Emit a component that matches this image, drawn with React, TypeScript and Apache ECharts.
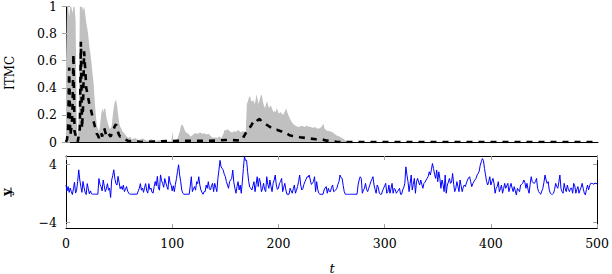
import React, { useEffect, useRef } from "react";
import * as echarts from "echarts";

// ---- data -------------------------------------------------------------
const xTicks = [0, 100, 200, 300, 400, 500];
const itmcTicks = [0, 0.2, 0.4, 0.6, 0.8, 1];
const yTickVals = [-4, 4];

// upper edge of the grey ITMC band: [t, value]
const upperBand: [number, number][] = [
  [0, 0.6], [1, 1], [2, 1], [3, 0.92], [4, 1], [5, 1], [6, 0.95], [7, 1], [8, 1], [9, 0.9],
  [10, 0.2], [11, 0.0], [12, 0.2], [13, 1], [14, 1], [15, 1], [16, 0.97], [17, 1], [18, 0.95], [19, 0.88],
  [20, 0.84], [21, 0.78], [22, 0.7], [23, 0.65], [24, 0.58], [25, 0.5], [26, 0.43], [27, 0.3], [28, 0.2], [29, 0.12],
  [30, 0.1], [31, 0.08], [32, 0.12], [33, 0.2], [34, 0.25], [35, 0.22], [36, 0.25], [37, 0.24], [38, 0.18], [39, 0.15],
  [40, 0.12], [41, 0.1], [42, 0.1], [43, 0.12], [44, 0.2], [45, 0.26], [46, 0.3], [47, 0.31], [48, 0.27], [49, 0.2],
  [50, 0.14], [51, 0.11], [52, 0.1], [53, 0.08], [54, 0.07], [55, 0.06], [56, 0.05], [57, 0.04], [58, 0.035], [59, 0.03],
  [60, 0.04], [62, 0.02], [65, 0.03], [68, 0.015], [72, 0.025], [76, 0.01], [80, 0.02], [85, 0.01], [90, 0.015], [95, 0.005],
  [99, 0.005], [100, 0.075], [101, 0.005], [103, 0.01], [105, 0.03], [107, 0.08], [108, 0.12], [109, 0.13], [110, 0.12], [111, 0.1],
  [112, 0.08], [113, 0.07], [115, 0.06], [117, 0.04], [119, 0.05], [120, 0.06], [122, 0.065], [124, 0.06], [126, 0.07], [128, 0.06],
  [130, 0.065], [132, 0.055], [134, 0.06], [136, 0.045], [138, 0.03], [140, 0.035], [142, 0.03], [144, 0.04], [146, 0.03], [148, 0.06],
  [149, 0.09], [150, 0.085], [152, 0.095], [154, 0.08], [156, 0.07], [158, 0.08], [160, 0.075], [162, 0.09], [164, 0.07], [166, 0.08],
  [168, 0.075], [169, 0.08], [170, 0.28], [171, 0.3], [172, 0.33], [173, 0.34], [174, 0.3], [175, 0.3], [176, 0.31], [177, 0.28],
  [178, 0.3], [179, 0.35], [180, 0.32], [181, 0.28], [182, 0.31], [183, 0.34], [184, 0.35], [185, 0.3], [186, 0.27], [187, 0.25],
  [188, 0.28], [189, 0.3], [190, 0.27], [191, 0.25], [192, 0.27], [193, 0.26], [194, 0.24], [195, 0.22], [196, 0.23], [197, 0.22],
  [198, 0.25], [199, 0.23], [200, 0.21], [202, 0.22], [204, 0.2], [206, 0.23], [207, 0.25], [208, 0.22], [209, 0.2], [210, 0.18],
  [212, 0.15], [214, 0.13], [216, 0.12], [218, 0.11], [220, 0.115], [222, 0.12], [224, 0.11], [226, 0.12], [228, 0.115], [230, 0.11],
  [232, 0.105], [234, 0.11], [236, 0.1], [238, 0.1], [240, 0.11], [242, 0.135], [243, 0.1], [245, 0.085], [248, 0.08], [251, 0.07],
  [254, 0.05], [257, 0.04], [260, 0.025], [262, 0.015], [264, 0.005], [266, 0], [500, 0],
];

// mean ITMC (dashed black): [t, value]
const meanItmc: [number, number][] = [
  [0, 0], [1, 0.02], [2, 0.1], [3, 0.55], [4, 0.05], [5, 0.1], [6, 0.2], [7, 0.65], [8, 0.08], [9, 0.05],
  [10, 0.02], [11, 0], [12, 0.05], [13, 0.1], [14, 0.74], [15, 0.1], [16, 0.25], [17, 0.67], [18, 0.55], [19, 0.4],
  [20, 0.36], [21, 0.32], [22, 0.28], [23, 0.25], [24, 0.22], [25, 0.18], [26, 0.15], [27, 0.12], [28, 0.09], [29, 0.06],
  [30, 0.05], [31, 0.03], [32, 0.05], [33, 0.07], [34, 0.04], [35, 0.08], [36, 0.1], [37, 0.07], [38, 0.05], [39, 0.04],
  [40, 0.06], [41, 0.05], [42, 0.04], [43, 0.06], [44, 0.08], [45, 0.1], [46, 0.12], [47, 0.13], [48, 0.1], [49, 0.07],
  [50, 0.05], [51, 0.04], [52, 0.04], [53, 0.03], [55, 0.02], [58, 0.01], [60, 0.005], [65, 0.01], [70, 0], [110, 0.01],
  [120, 0.008], [140, 0.01], [150, 0.015], [155, 0.015], [165, 0.01], [170, 0.08], [172, 0.1], [174, 0.12], [176, 0.15], [178, 0.14],
  [180, 0.16], [182, 0.17], [184, 0.15], [186, 0.14], [188, 0.13], [190, 0.12], [192, 0.11], [194, 0.1], [196, 0.09], [198, 0.09],
  [200, 0.085], [202, 0.08], [204, 0.07], [206, 0.07], [208, 0.06], [210, 0.05], [213, 0.045], [216, 0.04], [220, 0.035], [225, 0.03],
  [230, 0.025], [235, 0.02], [240, 0.02], [245, 0.01], [250, 0.005], [255, 0], [500, 0],
];

// observed signal y_t, t = 0..500
const yVals: number[] = [
  1.1, 0.3, 0.9, 0.1, 0.7, 0.2, -0.2, 0.6, 1.5, 0.0,
  0.4, 1.6, 3.2, 1.8, 0.9, 0.1, 1.6, 0.8, 0.1, -0.2,
  1.3, 0.6, -0.1, 0.3, -0.1, -0.15, -0.15, -0.15, -0.15, -0.15,
  -0.15, 2.0, 1.2, 0.9, 0.3, 1.8, 1.0, 0.2, 0.6, 1.3,
  0.4, 0.7, -0.6, 1.8, 2.4, 3.2, 2.0, 1.3, 1.1, 2.3,
  1.5, 0.6, 0.9, 0.5, 1.1, 0.2, 0.5, 0.9, 0.3, 0.0,
  -0.15, -0.15, -0.15, -0.15, -0.15, -0.15, -0.15, -0.15, 0.3, 0.66,
  1.3, 0.4, 0.7, 0.1, 0.8, 1.3, 0.3, 0.0, 1.3, 0.5,
  0.7, 0.1, 0.0, 0.9, 1.6, 1.0, 2.3, 0.7, 0.4, 2.5,
  1.7, 1.3, 0.8, 2.0, 1.4, 0.9, 0.5, 2.3, 1.4, 1.1,
  0.3, 1.0, 0.2, 1.2, 2.0, 3.0, 3.9, 2.5, 1.57, 0.4,
  -0.02, -0.16, -0.16, -0.16, -0.16, -0.16, -0.16, 1.0, 2.25, 0.2,
  0.6, 0.89, 0.4, 1.57, 1.3, 2.25, 1.1, 0.43, 0.1, -0.16,
  0.2, 0.2, 1.11, 0.66, 1.57, 0.6, 0.43, 1.0, 1.34, 0.2,
  1.34, 0.8, 0.2, 2.0, 3.16, 4.5, 3.6, 3.39, 3.16, 2.6,
  2.25, 1.6, 1.11, 0.66, 1.57, 1.8, 2.02, 3.16, 1.5, 0.66,
  -0.02, 0.9, 1.57, 0.43, 1.11, -0.02, 1.5, 3.39, 4.98, 4.5,
  4.52, 2.93, 1.57, 0.8, 0.66, 0.43, 1.0, 1.57, 0.2, 1.2,
  2.25, 0.89, 2.02, 1.5, 0.2, 0.6, 1.34, 0.5, 0.2, 2.25,
  1.2, 0.66, 1.8, 0.9, 0.2, 1.34, 1.8, 2.48, 1.11, 0.5,
  0.66, 1.34, 1.6, 2.02, 0.2, 0.8, 1.34, 0.43, -0.16, -0.16,
  -0.16, 0.66, 0.3, -0.02, 0.6, 1.11, -0.02, 0.4, 0.89, 1.6,
  2.48, 1.11, 0.43, 0.6, 1.2, 1.57, 1.9, 2.25, 2.2, 2.48,
  1.8, 1.2, 1.34, 1.6, 2.25, 0.2, 1.57, 0.5, -0.02, -0.16,
  -0.16, -0.16, -0.16, 0.43, 0.7, 0.89, -0.02, 0.66, 0.2, 0.2,
  0.8, 1.11, 0.2, 0.3, 0.43, 0.66, 1.2, 1.57, 2.48, 2.1,
  2.02, 1.0, 0.2, -0.16, -0.16, -0.16, -0.16, -0.16, -0.16, -0.16,
  -0.16, -0.16, -0.16, -0.16, -0.16, 1.11, 1.8, 2.25, 2.02, -0.02,
  0.4, 0.66, 1.34, 0.5, 0.2, 0.66, 1.1, 1.57, 1.9, 2.25,
  1.11, 0.5, -0.02, 1.11, 0.8, -0.02, -0.16, -0.16, 0.3, 0.66,
  1.0, 1.34, -0.02, 0.2, 1.11, -0.02, 0.6, 1.34, -0.02, 0.66,
  0.5, -0.02, 0.2, 0.4, 0.66, -0.16, -0.16, 0.43, 0.8, 1.34,
  3.61, 2.5, 1.57, 0.2, 1.3, 2.48, 0.43, 1.2, 2.02, -0.02,
  1.57, 2.02, 1.5, 1.11, 1.8, 1.2, 0.66, 1.34, 1.5, 1.8,
  2.02, 2.3, 2.93, 2.48, 3.2, 4.07, 3.39, 2.6, 2.02, 3.16,
  1.57, 2.93, 2.0, 0.66, 1.8, 1.2, 0.2, 2.48, -0.02, 1.11,
  1.5, 2.02, 1.34, 1.5, 2.7, 1.2, 0.2, 0.66, 1.57, 0.9,
  0.2, 1.8, 1.0, 0.2, 0.8, 1.11, 0.89, 1.4, 1.8, 2.1,
  2.25, 1.57, 0.89, 1.3, 1.57, 1.8, 2.0, 2.48, 2.7, 3.0,
  3.84, 4.3, 4.75, 4.5, 3.39, 2.5, 1.57, 1.11, 1.6, 2.25,
  1.11, 1.6, 2.02, 1.34, -0.02, 0.66, 0.9, 1.57, 0.2, 0.6,
  1.11, -0.02, 0.6, 1.34, 0.66, 1.0, 1.34, 0.2, 0.8, 1.34,
  0.7, 0.2, 0.89, 0.3, -0.25, 0.66, 0.4, 0.2, 1.11, 1.2,
  1.34, 1.8, 1.5, 0.66, 1.34, 0.5, -0.02, 1.2, 2.25, 1.57,
  1.4, 1.34, 1.6, 2.02, 0.66, 0.2, -0.02, -0.16, 0.3, 0.66,
  1.5, 2.48, 1.8, 1.34, 1.57, 0.43, -0.02, -0.16, -0.16, -0.02,
  0.5, 1.34, 0.9, 0.66, 1.5, 2.48, 0.66, 0.2, -0.02, 1.34,
  0.6, 0.2, 1.11, 0.5, 0.2, 0.66, 0.7, -0.02, 1.34, 1.0,
  -0.02, 0.5, 0.89, -0.02, 0.43, 0.8, 1.34, 0.6, -0.02, -0.25,
  0.5, 1.11, 0.43, 1.0, 1.34, 1.34, 1.3, 1.2, 1.4, 1.3,
  1.3,
];

// ---- chart ------------------------------------------------------------
const FONT = "DejaVu Serif";
const TICK_GRAY = "#a0a0a0";

export default function App() {
  const ref = useRef<HTMLDivElement>(null);

  useEffect(() => {
    if (!ref.current) return;
    const chart = echarts.init(ref.current, null, { renderer: "svg" });
    const ySeries = yVals.map((v, i) => [i, v]);

    const baseX = {
      type: "value" as const,
      min: xTicks[0],
      max: xTicks[xTicks.length - 1],
      interval: 100,
      splitLine: { show: false },
    };

    chart.setOption({
      animation: false,
      backgroundColor: "#fff",
      textStyle: { fontFamily: FONT },
      grid: [
        { left: 66, top: 5, width: 532, height: 137 },
        { left: 66, top: 156, width: 532, height: 72 },
      ],
      xAxis: [
        { ...baseX, gridIndex: 0, position: "bottom", axisLine: { show: false }, axisTick: { show: false }, axisLabel: { show: false } },
        { ...baseX, gridIndex: 0, position: "top", axisLine: { show: true, lineStyle: { color: "#000", width: 1 } }, axisTick: { show: false }, axisLabel: { show: false } },
        {
          ...baseX, gridIndex: 1, position: "bottom",
          axisLine: { show: true, onZero: false, lineStyle: { color: "#000", width: 1 } },
          axisTick: { show: true, inside: true, length: 4, lineStyle: { color: TICK_GRAY } },
          axisLabel: { show: true, margin: 9, color: "#000", fontFamily: FONT, fontSize: 12.5 },
        },
        {
          ...baseX, gridIndex: 1, position: "top",
          axisLine: { show: true, onZero: false, lineStyle: { color: "#000", width: 1 } },
          axisTick: { show: true, inside: true, length: 4, lineStyle: { color: TICK_GRAY } },
          axisLabel: { show: false },
        },
      ],
      yAxis: [
        {
          type: "value", gridIndex: 0, min: itmcTicks[0], max: itmcTicks[itmcTicks.length - 1], interval: 0.2,
          splitLine: { show: false },
          axisLine: { show: true, lineStyle: { color: "#000", width: 1 } },
          axisTick: { show: true, inside: true, length: 4, lineStyle: { color: TICK_GRAY } },
          axisLabel: {
            show: true, margin: 9, color: "#000", fontFamily: FONT, fontSize: 12.5,
            formatter: (v: number) => String(Number(v.toFixed(1))),
          },
        },
        {
          type: "value", gridIndex: 0, position: "right", min: 0, max: 1, interval: 0.2,
          splitLine: { show: false },
          axisLine: { show: true, lineStyle: { color: "#000", width: 1 } },
          axisTick: { show: true, inside: true, length: 4, lineStyle: { color: TICK_GRAY } },
          axisLabel: { show: false },
        },
        {
          type: "value", gridIndex: 1, min: -4.8, max: 5.1,
          splitLine: { show: false },
          axisLine: { show: true, onZero: false, lineStyle: { color: "#000", width: 1 } },
          axisTick: { show: true, inside: true, length: 4, customValues: yTickVals, lineStyle: { color: TICK_GRAY } },
          axisLabel: {
            show: true, margin: 9, color: "#000", fontFamily: FONT, fontSize: 12.5, customValues: yTickVals,
            formatter: (v: number) => (v < 0 ? "\u2212" + Math.abs(v) : String(v)),
          },
        },
        {
          type: "value", gridIndex: 1, position: "right", min: -4.8, max: 5.1,
          splitLine: { show: false },
          axisLine: { show: true, onZero: false, lineStyle: { color: "#000", width: 1 } },
          axisTick: { show: true, inside: true, length: 4, customValues: yTickVals, lineStyle: { color: TICK_GRAY } },
          axisLabel: { show: false },
        },
      ],
      series: [
        {
          type: "line", xAxisIndex: 0, yAxisIndex: 0, data: upperBand, symbol: "none",
          lineStyle: { width: 0, color: "#c0c0c0" }, areaStyle: { color: "#c0c0c0", opacity: 1 },
          z: 2,
        },
        {
          type: "line", xAxisIndex: 0, yAxisIndex: 0, data: meanItmc, symbol: "none",
          lineStyle: { width: 2.6, color: "#000", type: [6, 6] },
          z: 3,
        },
        {
          type: "line", xAxisIndex: 2, yAxisIndex: 2, data: ySeries, symbol: "none",
          lineStyle: { width: 1, color: "#0000ff" },
          z: 3,
        },
      ],
      graphic: [
        {
          type: "text", x: 10, y: 73, rotation: Math.PI / 2,
          style: { text: "ITMC", fontFamily: FONT, fontSize: 12, fill: "#000", align: "center", verticalAlign: "middle" },
        },
        {
          type: "text", x: 6, y: 192, rotation: Math.PI / 2,
          style: { text: "y", fontFamily: FONT, fontSize: 12.5, fontWeight: "bold", fill: "#000", align: "center", verticalAlign: "middle" },
        },
        {
          type: "line", shape: { x1: 11, y1: 187.5, x2: 11, y2: 197 },
          style: { stroke: "#000", lineWidth: 1 },
        },
        {
          type: "text", x: 332, y: 268,
          style: { text: "t", fontFamily: FONT, fontSize: 13, fontStyle: "italic", fill: "#000", align: "center", verticalAlign: "middle" },
        },
      ],
    });

    return () => chart.dispose();
  }, []);

  return (
    <div
      ref={ref}
      style={{ position: "absolute", left: 0, top: 0, width: 612, height: 274 }}
    />
  );
}
